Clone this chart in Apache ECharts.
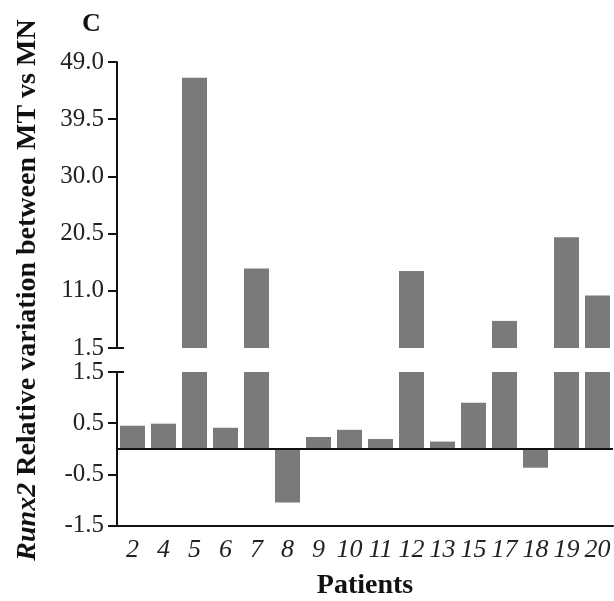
<!DOCTYPE html>
<html>
<head>
<meta charset="utf-8">
<script src="https://cdn.jsdelivr.net/npm/echarts@6/dist/echarts.min.js"></script>
<style>
  html, body { margin: 0; padding: 0; background: #fff; }
  #chart { width: 614px; height: 601px; }
</style>
</head>
<body>
<div id="chart"></div>
<script>
// Patients on the x axis
const patients = ['2', '4', '5', '6', '7', '8', '9', '10', '11', '12', '13', '15', '17', '18', '19', '20'];
// Relative variation of Runx2 expression, MT vs MN
const variation = [0.45, 0.49, 46.4, 0.41, 14.7, -1.05, 0.23, 0.37, 0.19, 14.3, 0.14, 0.90, 6.0, -0.37, 19.9, 10.2];
// Tick values for the two segments of the broken y axis
const upperTicks = [1.5, 11.0, 20.5, 30.0, 39.5, 49.0];
const lowerTicks = [-1.5, -0.5, 0.5, 1.5];
// Value where the axis is broken
const breakValue = [1.5];

const serif = '"Liberation Serif", "Times New Roman", serif';
const ink = '#111';
const barColor = '#7a7a7a';

const chart = echarts.init(document.getElementById('chart'), null, { renderer: 'canvas' });

const fmt = v => Number(v).toFixed(1);

const mainY = (min, max, ticks) => ({
  type: 'value',
  min: min,
  max: max,
  position: 'left',
  splitLine: { show: false },
  axisLine: { show: true, onZero: false, lineStyle: { color: ink, width: 2 } },
  axisTick: { show: true, inside: false, length: 9, customValues: ticks, lineStyle: { color: ink, width: 2 } },
  axisLabel: {
    customValues: ticks, margin: 13, formatter: fmt,
    fontFamily: serif, fontSize: 25, color: '#222'
  }
});

// Inner half of the ticks where the axis breaks
const breakY = (gridIndex, min, max) => ({
  type: 'value',
  gridIndex: gridIndex,
  min: min,
  max: max,
  position: 'left',
  splitLine: { show: false },
  axisLine: { show: false },
  axisTick: { show: true, inside: true, length: 7, customValues: breakValue, lineStyle: { color: ink, width: 2 } },
  axisLabel: { show: false }
});

const upperY = Object.assign(mainY(upperTicks[0], upperTicks[upperTicks.length - 1], upperTicks), { gridIndex: 0 });
const lowerY = Object.assign(mainY(lowerTicks[0], lowerTicks[lowerTicks.length - 1], lowerTicks), { gridIndex: 1 });

chart.setOption({
  animation: false,
  backgroundColor: '#fff',
  title: {
    text: 'C', left: 77, top: 6,
    textStyle: { fontFamily: serif, fontWeight: 'bold', fontSize: 26, color: ink }
  },
  grid: [
    { left: 117, right: 1, top: 62, height: 286 },
    { left: 117, right: 1, top: 372, height: 153.5 }
  ],
  xAxis: [
    {
      type: 'category', gridIndex: 0, data: patients,
      axisLine: { show: false }, axisTick: { show: false }, axisLabel: { show: false }
    },
    {
      type: 'category', gridIndex: 1, data: patients,
      axisLine: { show: true, onZero: false, lineStyle: { color: ink, width: 2 } },
      axisTick: { show: false },
      axisLabel: {
        interval: 0, hideOverlap: false, margin: 12,
        fontFamily: serif, fontStyle: 'italic', fontSize: 26, color: '#222'
      },
      name: 'Patients', nameLocation: 'middle', nameGap: 46,
      nameTextStyle: { fontFamily: serif, fontWeight: 'bold', fontSize: 28, color: ink }
    }
  ],
  yAxis: [upperY, lowerY, breakY(0, upperTicks[0], upperTicks[upperTicks.length - 1]), breakY(1, lowerTicks[0], lowerTicks[lowerTicks.length - 1])],
  series: [
    {
      type: 'bar', xAxisIndex: 0, yAxisIndex: 0, data: variation,
      barWidth: 25, clip: true, itemStyle: { color: barColor }
    },
    {
      type: 'bar', xAxisIndex: 1, yAxisIndex: 1, data: variation,
      barWidth: 25, clip: true, itemStyle: { color: barColor },
      markLine: {
        silent: true, symbol: 'none', label: { show: false },
        lineStyle: { color: ink, width: 2, type: 'solid' },
        data: [{ yAxis: 0 }]
      }
    }
  ],
  graphic: [
    {
      type: 'text', x: 28, y: 290, rotation: Math.PI / 2,
      style: {
        text: '{i|Runx2} Relative variation between MT vs MN',
        textAlign: 'center', textVerticalAlign: 'middle',
        fontFamily: serif, fontWeight: 'bold', fontSize: 28, fill: ink,
        rich: { i: { fontFamily: serif, fontWeight: 'bold', fontStyle: 'italic', fontSize: 28, fill: ink } }
      }
    }
  ]
});
</script>
</body>
</html>
